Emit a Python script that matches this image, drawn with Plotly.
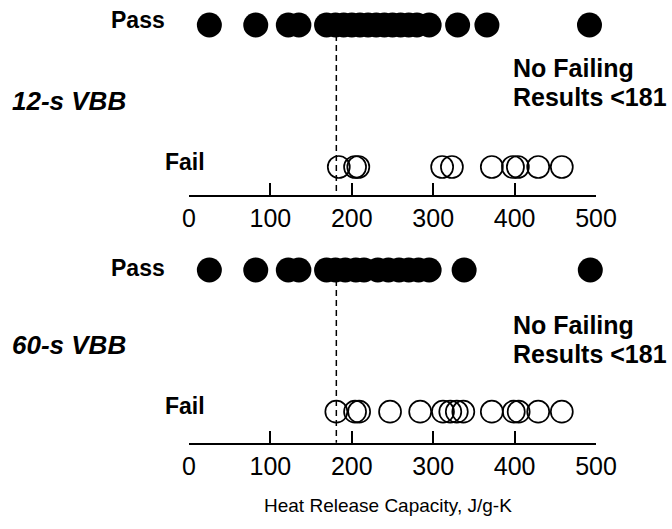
import plotly.graph_objects as go

# ---- data (J/g-K) ----
pass_12s = [25, 82, 122, 135, 169, 180, 190, 200, 210, 220, 230, 240, 250, 260, 270, 280, 295, 330, 366, 492]
fail_12s = [184, 204, 208, 311, 323, 372, 398, 404, 429, 458]
pass_60s = [25, 82, 122, 135, 169, 180, 192, 205, 215, 232, 245, 258, 270, 282, 295, 338, 493]
fail_60s = [181, 204, 209, 247, 284, 312, 321, 329, 337, 372, 399, 405, 429, 458]
threshold = 181
tick_vals = [0, 100, 200, 300, 400, 500]
panel_labels = ["12-s VBB", "60-s VBB"]
row_labels = ["Pass", "Fail"]
note_lines = ["No Failing", "Results <181"]
x_title = "Heat Release Capacity, J/g-K"

W, H = 672, 529
FONT = "Liberation Sans, Arial, sans-serif"

fig = go.Figure()

def add_panel(passes, fails, xa, ya):
    fig.add_trace(go.Scatter(x=passes, y=[1] * len(passes), mode="markers",
                             marker=dict(size=25, color="black", line=dict(width=0)),
                             xaxis=xa, yaxis=ya, cliponaxis=False, hoverinfo="x"))
    fig.add_trace(go.Scatter(x=fails, y=[0] * len(fails), mode="markers",
                             marker=dict(size=22, color="black", symbol="circle-open",
                                         line=dict(width=1.7, color="black")),
                             xaxis=xa, yaxis=ya, cliponaxis=False, hoverinfo="x"))

add_panel(pass_12s, fail_12s, "x", "y")
add_panel(pass_60s, fail_60s, "x2", "y2")

xdom = [189 / W, 596 / W]
axis_common = dict(range=[0, 500], domain=xdom, showline=True, linecolor="black", linewidth=2,
                   ticks="inside", ticklen=12, tickwidth=2, tickcolor="black",
                   tickvals=tick_vals, ticktext=[str(v) for v in tick_vals],
                   tickfont=dict(family=FONT, size=25, color="black"),
                   showgrid=False, zeroline=False, fixedrange=True, automargin=False)

def ydomain(axis_px, top_px):
    return [(H - axis_px) / H, (H - top_px) / H]

span1 = 167 - 25
yr1 = [-(195 - 167) / span1, 1 + 25 / span1]
span2 = 411.7 - 270
yr2 = [-(442.7 - 411.7) / span2, 1 + 25 / span2]

fig.update_layout(
    xaxis=dict(anchor="y", **axis_common),
    xaxis2=dict(anchor="y2", **axis_common),
    yaxis=dict(domain=ydomain(195, 0), range=yr1, visible=False, fixedrange=True),
    yaxis2=dict(domain=ydomain(442.7, 245), range=yr2, visible=False, fixedrange=True),
)

for xr, yr, y_bottom in [("x", "y", yr1[0] - 0.02), ("x2", "y2", yr2[0] - 0.02)]:
    fig.add_shape(type="line", xref=xr, yref=yr, x0=threshold, x1=threshold, y0=1, y1=y_bottom,
                  line=dict(color="black", width=1.5, dash="6px,4px"), layer="below")

def ann(text, xpx, ypx, xanchor="left", size=23, bold=True, italic=False):
    t = text
    if bold:
        t = "<b>" + t + "</b>"
    if italic:
        t = "<i>" + t + "</i>"
    fig.add_annotation(text=t, xref="paper", yref="paper", x=xpx / W, y=1 - ypx / H,
                       xanchor=xanchor, yanchor="middle", showarrow=False, borderpad=0,
                       font=dict(family=FONT, size=size, color="black"))

label_y = {
    "pass": [20, 268],
    "fail": [162, 406],
    "panel": [101, 345],
    "note1": [68, 325],
    "note2": [97, 354],
}
for i, panel in enumerate(panel_labels):
    ann(row_labels[0], 166, label_y["pass"][i], xanchor="right")
    ann(row_labels[1], 206, label_y["fail"][i], xanchor="right")
    ann(panel, 11, label_y["panel"][i], size=26, italic=True)
    ann(note_lines[0], 512, label_y["note1"][i], size=25)
    ann(note_lines[1], 512, label_y["note2"][i], size=25)

ann(x_title, 388, 505, xanchor="center", size=19, bold=False)

fig.update_layout(width=W, height=H, autosize=False, margin=dict(l=0, r=0, t=0, b=0, pad=0),
                  paper_bgcolor="white", plot_bgcolor="white", showlegend=False)

fig.write_html("out.html", config={"displayModeBar": False, "responsive": False},
               post_script="document.body.style.margin='0';document.body.style.overflow='hidden';")
